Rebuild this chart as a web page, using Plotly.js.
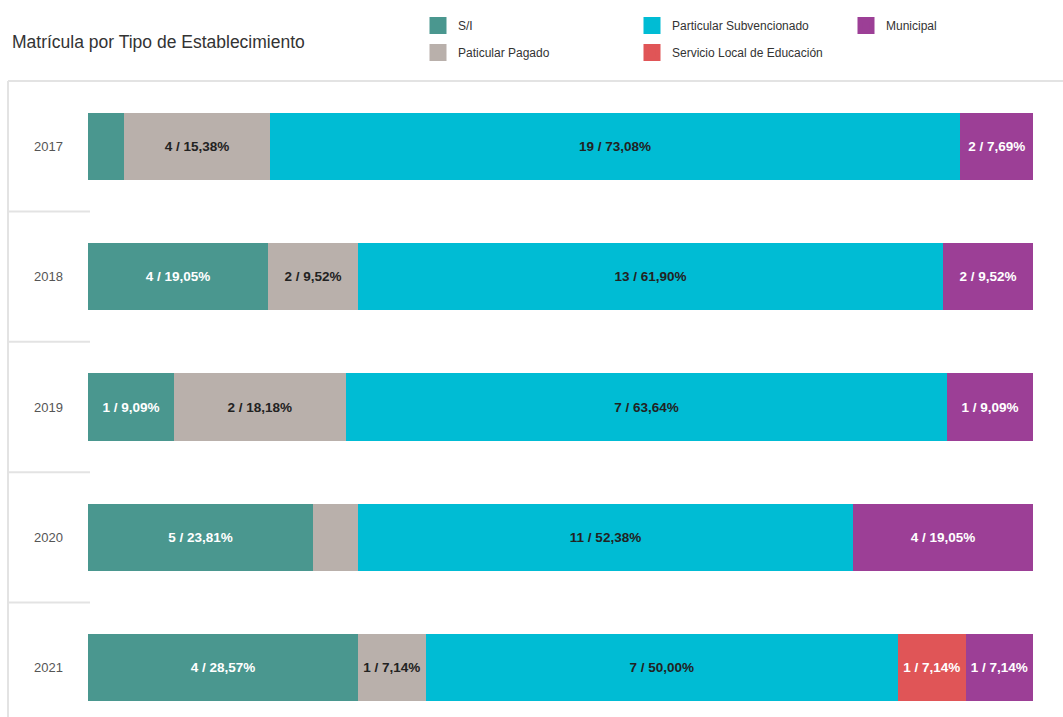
<!DOCTYPE html>
<html>
<head>
<meta charset="utf-8">
<script src="https://cdn.plot.ly/plotly-3.0.1.min.js"></script>
<style>html,body{margin:0;padding:0;background:#fff;}#chart{width:1063px;height:717px;}</style>
</head>
<body>
<div id="chart"></div>
<script>
const years = ['2017', '2018', '2019', '2020', '2021'];
const seriesNames = ['S/I', 'Paticular Pagado', 'Particular Subvencionado', 'Servicio Local de Educación', 'Municipal'];
const siCounts = [1, 4, 1, 5, 4];
const pagadoCounts = [4, 2, 2, 1, 1];
const subvCounts = [19, 13, 7, 11, 7];
const sleCounts = [0, 0, 0, 0, 1];
const municipalCounts = [2, 2, 1, 4, 1];
const colors = ['#4a978f', '#b9b0ab', '#00bcd4', '#e05557', '#9c3f96'];
const textColors = ['#ffffff', '#222222', '#222222', '#ffffff', '#ffffff'];
const legendIds = ['legend', 'legend', 'legend2', 'legend2', 'legend3'];

const allCounts = [siCounts, pagadoCounts, subvCounts, sleCounts, municipalCounts];
const totals = years.map((_, i) => allCounts.reduce((s, a) => s + a[i], 0));
const yPos = years.map((_, i) => i);

const FONT = '"Liberation Sans Narrow", "Arial Narrow", "Liberation Sans", Arial, sans-serif';

const barTraces = allCounts.map((counts, k) => {
  const pct = counts.map((c, i) => 100 * c / totals[i]);
  const text = counts.map((c, i) => {
    if (c === 0 || pct[i] < 5) return '';
    return c + ' / ' + pct[i].toFixed(2).replace('.', ',') + '%';
  });
  return {
    type: 'bar',
    orientation: 'h',
    name: seriesNames[k],
    y: yPos,
    x: pct,
    width: 0.515,
    text: text,
    textposition: 'inside',
    insidetextanchor: 'middle',
    textangle: 0,
    constraintext: 'none',
    insidetextfont: {family: FONT, size: 13.5, color: textColors[k], weight: 'bold'},
    marker: {color: colors[k], line: {width: 0}},
    showlegend: false,
    hoverinfo: 'skip'
  };
});

// legend-only entries (no data drawn), with larger swatches
const legendTraces = seriesNames.map((name, k) => ({
  type: 'bar',
  orientation: 'h',
  name: name,
  x: [null],
  y: [null],
  marker: {color: colors[k], line: {width: 5, color: colors[k]}},
  legend: legendIds[k],
  legendgroup: 'g' + k,
  showlegend: true,
  hoverinfo: 'skip'
}));

const W = 1063, H = 717, L = 88, R = 30, T = 81, B = 0;
const pw = W - L - R, ph = H - T - B;
const px2x = p => (p - L) / pw;
const py2y = p => 1 - (p - T) / ph;

const rowPx = 130.4;
const yTop = -0.5;
const yBottom = yTop + ph / rowPx;

const shapes = [];
shapes.push({type: 'line', xref: 'paper', yref: 'paper', x0: px2x(8), x1: px2x(1063), y0: py2y(81), y1: py2y(81), line: {color: '#e3e3e3', width: 2}});
shapes.push({type: 'line', xref: 'paper', yref: 'paper', x0: px2x(8), x1: px2x(8), y0: py2y(81), y1: py2y(717), line: {color: '#e3e3e3', width: 2}});
for (let i = 0; i < years.length - 1; i++) {
  shapes.push({type: 'line', xref: 'paper', yref: 'y', x0: px2x(8), x1: px2x(90), y0: i + 0.5, y1: i + 0.5, line: {color: '#e3e3e3', width: 2}});
}

const legendBase = {
  orientation: 'v', xanchor: 'left', yanchor: 'top',
  font: {family: FONT, size: 12, color: '#333'},
  bgcolor: 'rgba(0,0,0,0)', tracegroupgap: 8, itemclick: false, itemdoubleclick: false,
  traceorder: 'grouped'
};

const layout = {
  width: W, height: H,
  margin: {l: L, r: R, t: T, b: B, pad: 0},
  paper_bgcolor: '#ffffff', plot_bgcolor: '#ffffff',
  barmode: 'stack',
  showlegend: true,
  title: {text: 'Matrícula por Tipo de Establecimiento', x: 12 / W, xanchor: 'left', y: 1 - 42 / H, yanchor: 'middle',
          font: {family: FONT, size: 17.5, color: '#333'}},
  xaxis: {range: [0, 100], showticklabels: false, showgrid: false, zeroline: false, showline: false, fixedrange: true},
  yaxis: {range: [yBottom, yTop], tickmode: 'array', tickvals: yPos, ticktext: years,
          showgrid: false, zeroline: false, showline: false, ticks: '', ticklabelstandoff: 24,
          tickfont: {family: 'Liberation Sans, Arial, sans-serif', size: 13, color: '#555'}, fixedrange: true},
  legend: Object.assign({}, legendBase, {x: px2x(418), y: py2y(11)}),
  legend2: Object.assign({}, legendBase, {x: px2x(632), y: py2y(11)}),
  legend3: Object.assign({}, legendBase, {x: px2x(846), y: py2y(11)}),
  shapes: shapes
};

Plotly.newPlot('chart', barTraces.concat(legendTraces), layout, {displayModeBar: false, staticPlot: true});
</script>
</body>
</html>
